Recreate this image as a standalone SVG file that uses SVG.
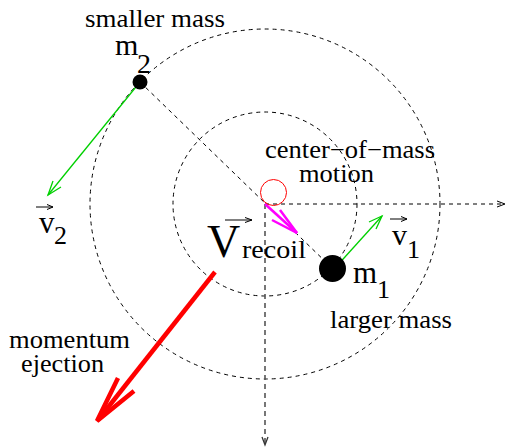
<svg xmlns="http://www.w3.org/2000/svg" width="507" height="448" viewBox="0 0 507 448">
<style>
text{font-family:"Liberation Serif","Times New Roman",serif;fill:#000}
.lbl{font-size:25px}
.dash{fill:none;stroke:#000;stroke-width:1;stroke-dasharray:4 4}
.green{fill:none;stroke:#00d000;stroke-width:1.3}
.vec{fill:none;stroke:#000;stroke-width:1}
</style>
<rect width="507" height="448" fill="#fff"/>
<g id="orbits">
<circle class="dash" cx="265" cy="204" r="175"/>
<circle class="dash" cx="265" cy="204" r="92"/>
</g>
<g id="axes">
<line class="dash" x1="265" y1="204" x2="504" y2="204"/>
<polyline class="vec" points="497,201 505,204 497,207"/>
<line x1="265" y1="204" x2="265" y2="444" fill="none" stroke="#555" stroke-width="1.6" stroke-dasharray="5 4"/>
<polyline points="262,437 265,445 268,437" fill="none" stroke="#333" stroke-width="1.3"/>
</g>
<g id="connectors">
<line class="dash" x1="140" y1="82" x2="332" y2="268"/>
<g id="v2-arrow">
<line class="green" x1="140" y1="82" x2="48" y2="195"/>
<polyline class="green" points="61,187 48,195 53,181"/>
</g>
<g id="v1-arrow">
<line class="green" x1="335" y1="268" x2="382" y2="216"/>
<polyline class="green" points="369,222 382,216 376,229"/>
</g>
<g id="recoil-arrow">
<line x1="265" y1="204" x2="297" y2="233" stroke="#ff00ff" stroke-width="2.5"/>
<polyline points="280,210 297,233 272,220" fill="none" stroke="#ff00ff" stroke-width="2.5"/>
</g>
<g id="ejection-arrow">
<line x1="215" y1="272" x2="98" y2="420" stroke="#ff0000" stroke-width="4.5"/>
<polyline points="118,378 97,421 134,391" fill="none" stroke="#ff0000" stroke-width="4.5"/>
</g>
</g>
<g id="node-m2">
<circle cx="140" cy="82" r="7.5" fill="#000"/>
<text class="lbl" x="85" y="27" textLength="140" lengthAdjust="spacingAndGlyphs">smaller mass</text>
<text x="115" y="55" font-size="30">m</text>
<text x="137" y="73" font-size="28">2</text>
</g>
<g id="node-m1">
<circle cx="332.5" cy="268.5" r="13.5" fill="#000"/>
<text x="353" y="283" font-size="31">m</text>
<text x="377" y="298" font-size="26">1</text>
<text class="lbl" x="330" y="328" textLength="122" lengthAdjust="spacingAndGlyphs">larger mass</text>
</g>
<g id="node-com">
<circle cx="273.5" cy="192.5" r="13" fill="none" stroke="#ff0000" stroke-width="1"/>
<text class="lbl" x="265" y="158" textLength="170" lengthAdjust="spacingAndGlyphs">center−of−mass</text>
<text class="lbl" x="299" y="182" textLength="75" lengthAdjust="spacingAndGlyphs">motion</text>
</g>
<g id="label-v2">
<line class="vec" x1="36" y1="207" x2="53" y2="207"/>
<polyline class="vec" points="47,204.5 53,207 47,209.5"/>
<text x="39" y="233" font-size="31">v</text>
<text x="54" y="244" font-size="26">2</text>
</g>
<g id="label-v1">
<line class="vec" x1="390" y1="219" x2="407" y2="219"/>
<polyline class="vec" points="401,216.5 407,219 401,221.5"/>
<text x="392" y="245" font-size="30">v</text>
<text x="407" y="258" font-size="26">1</text>
</g>
<g id="label-vrecoil">
<line class="vec" x1="225" y1="220" x2="252" y2="220"/>
<polyline class="vec" points="245,217.5 252,220 245,222.5"/>
<text x="207" y="257" font-size="46">V</text>
<text class="lbl" x="242" y="258" textLength="64" lengthAdjust="spacingAndGlyphs">recoil</text>
</g>
<g id="label-ejection">
<text class="lbl" x="9" y="348" textLength="121" lengthAdjust="spacingAndGlyphs">momentum</text>
<text class="lbl" x="21" y="372" textLength="83" lengthAdjust="spacingAndGlyphs">ejection</text>
</g>
</svg>
